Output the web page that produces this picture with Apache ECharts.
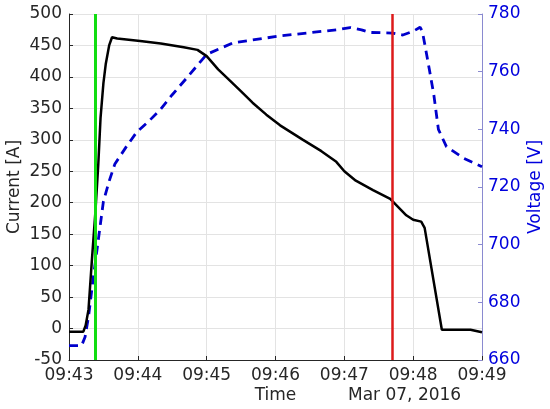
<!DOCTYPE html>
<html><head><meta charset="utf-8">
<script src="https://cdn.jsdelivr.net/npm/echarts@6/dist/echarts.min.js"></script>
<style>html,body{margin:0;padding:0;background:#fff}#c{width:550px;height:409px}</style>
</head><body><div id="c"></div>
<script>
// seconds after 09:43:00
const xTickLabels = ['09:43','09:44','09:45','09:46','09:47','09:48','09:49'];
const dateLabel = 'Mar 07, 2016';
const currentTimes = [0,12.5,14.5,17,20,23,25.5,27.5,30,32,35,37.5,42,62,80,100,112,120,130,138,150,160,172,184,204,220,233,240,250,265,280,294,300,307,310,325,350,360];
const currentValues = [-5,-5,5,30,110,185,260,335,390,420,450,463,461,457,453,447,443,433,412,398,377,359,340,323,300,282,265,250,235,220,206,180,173,170,160,-2,-2,-6];
const voltageTimes = [0,11,14,17,21,25,30,35,40,50,59,70,80,90,103,120,143,184,233,245,255,262,282,291,300,306,308,310,314,318,322,329,344,360];
const voltageValues = [665,665,668,675,688,700,715,722,728,734,739,743,747,752,758,766,770,772.4,774.5,775.3,774.5,773.6,773.4,772.7,774,775.4,774,769.8,761,752,740,734,730,727];
const greenTime = 23;
const redTime = 282;

const font = 'DejaVu Sans';
const chart = echarts.init(document.getElementById('c'), null, {renderer:'canvas'});
chart.setOption({
  animation:false,
  backgroundColor:'#fff',
  grid:{left:69,right:68,top:14,bottom:49,containLabel:false,outerBoundsMode:'none'},
  xAxis:{type:'value',min:0,max:360,interval:60,
    name:'Time',nameLocation:'middle',nameGap:27,nameMoveOverlap:false,
    nameTextStyle:{color:'#262626',fontFamily:font,fontSize:17},
    axisLine:{show:true,onZero:false,lineStyle:{color:'#262626',width:1}},
    axisTick:{show:true,inside:true,length:4,lineStyle:{color:'#262626'}},
    axisLabel:{color:'#262626',fontFamily:font,fontSize:17,margin:7,
      formatter:(v)=>xTickLabels[Math.round(v/60)]},
    splitLine:{show:true,lineStyle:{color:'#e3e3e3',width:1}}},
  yAxis:[
    {type:'value',min:-50,max:500,interval:50,position:'left',
      name:'Current [A]',nameLocation:'middle',nameGap:46,nameRotate:90,nameMoveOverlap:false,
      nameTextStyle:{color:'#262626',fontFamily:font,fontSize:17},
      axisLine:{show:true,onZero:false,lineStyle:{color:'#262626',width:1}},
      axisTick:{show:true,inside:true,length:4,lineStyle:{color:'#262626'}},
      axisLabel:{color:'#262626',fontFamily:font,fontSize:17,margin:7},
      splitLine:{show:true,lineStyle:{color:'#e3e3e3',width:1}}},
    {type:'value',min:660,max:780,interval:20,position:'right',
      name:'Voltage [V]',nameLocation:'middle',nameGap:45,nameRotate:90,nameMoveOverlap:false,
      nameTextStyle:{color:'#0000dd',fontFamily:font,fontSize:17},
      axisLine:{show:true,onZero:false,lineStyle:{color:'#8a8ad0',width:1}},
      axisTick:{show:true,inside:true,length:4,lineStyle:{color:'#8a8ad0'}},
      axisLabel:{color:'#0000dd',fontFamily:font,fontSize:17,margin:6},
      splitLine:{show:false}}
  ],
  graphic:[{type:'text',left:348,top:387,style:{text:dateLabel,fill:'#262626',font:'17px "DejaVu Sans"'}}],
  series:[
    {type:'line',yAxisIndex:1,showSymbol:false,z:2,
      data:voltageTimes.map((t,i)=>[t,voltageValues[i]]),
      lineStyle:{color:'#0000cc',width:2.8,type:[9,6]}},
    {type:'line',yAxisIndex:0,showSymbol:false,z:3,
      data:currentTimes.map((t,i)=>[t,currentValues[i]]),
      lineStyle:{color:'#000',width:2.5},
      markLine:{symbol:'none',silent:true,label:{show:false},
        data:[
          {xAxis:greenTime,lineStyle:{color:'#11dd11',width:3,type:'solid'}},
          {xAxis:redTime,lineStyle:{color:'#dd1a1a',width:2.5,type:'solid'}}
        ]}}
  ]
});
</script></body></html>
